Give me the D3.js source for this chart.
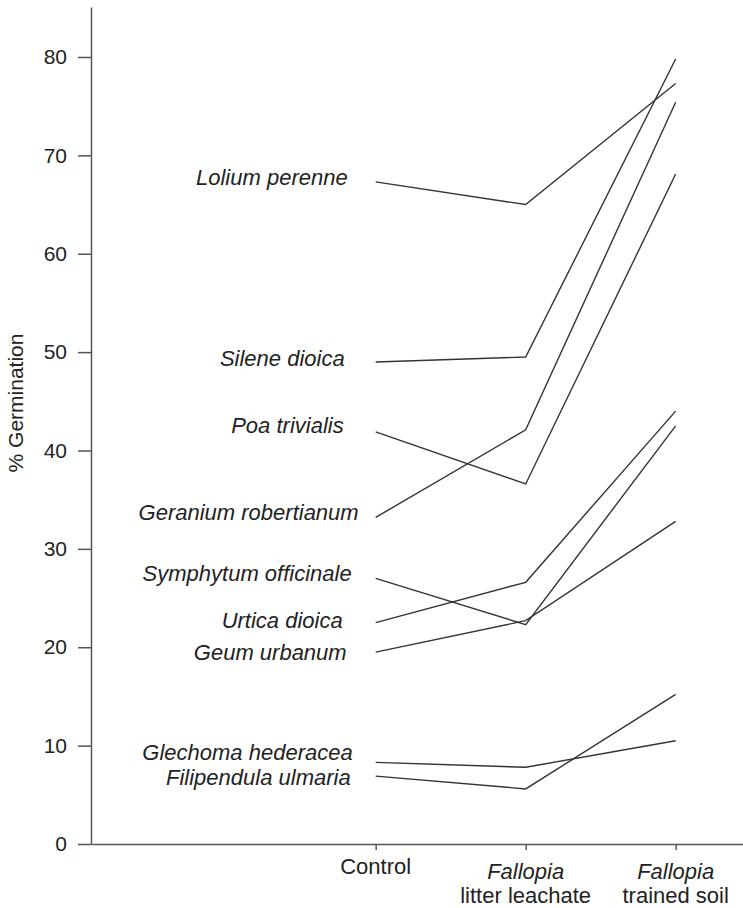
<!DOCTYPE html>
<html><head><meta charset="utf-8">
<script src="https://cdn.jsdelivr.net/npm/d3@7"></script>
<style>
body{margin:0;background:#fff;}
svg{display:block;font-family:"Liberation Sans",Arial,sans-serif;}
</style></head>
<body><svg id="c" width="743" height="908"></svg>
<script>
const treatments = ["Control", "Fallopia|litter leachate", "Fallopia|trained soil"];
const species = ["Lolium perenne","Silene dioica","Poa trivialis","Geranium robertianum","Symphytum officinale","Urtica dioica","Geum urbanum","Glechoma hederacea","Filipendula ulmaria"];
const controlVals  = [67.3, 49.0, 41.9, 33.2, 27.0, 22.5, 19.5, 8.3, 6.9];
const leachateVals = [65.0, 49.5, 36.6, 42.1, 22.3, 26.6, 22.7, 7.8, 5.6];
const soilVals     = [77.3, 79.8, 68.1, 75.4, 42.5, 44.0, 32.8, 10.5, 15.2];
const yTicks = [0,10,20,30,40,50,60,70,80];
// label nudges (px) relative to line start [dx, dy]
const labelNudge = [[-28,-4],[-31,-3],[-32,-6],[-17,-5],[-24,-5],[-33,-2],[-29,0],[-23,-10],[-25,1]];

const svg = d3.select("#c");
const x = d3.scaleLinear().domain([-1.898, 2.449]).range([91, 743]);
const y = d3.scaleLinear().domain([0, 85.08]).range([844, 7]);

const axisColor = "#555";
const textColor = "#222";

// Y axis
const gy = svg.append("g").attr("transform","translate(91,0)")
  .call(d3.axisLeft(y).tickValues(yTicks).tickSize(13).tickSizeOuter(0).tickPadding(11));
gy.select(".domain").attr("stroke",axisColor).attr("stroke-width",1.5);
gy.selectAll(".tick line").attr("stroke",axisColor).attr("stroke-width",1.5);
gy.selectAll(".tick text").attr("fill",textColor).style("font-size","21px").style("font-family","Liberation Sans, Arial, sans-serif");

// X axis
const gx = svg.append("g").attr("transform","translate(0,844)")
  .call(d3.axisBottom(x).tickValues([0,1,2]).tickSize(6).tickSizeOuter(0).tickFormat(""));
gx.select(".domain").attr("stroke",axisColor).attr("stroke-width",1.5);
gx.selectAll(".tick line").attr("stroke",axisColor).attr("stroke-width",1.5);

treatments.forEach((t,i)=>{
  const parts = t.split("|");
  const txt = svg.append("text").attr("text-anchor","middle").attr("fill",textColor)
    .style("font-size","22px");
  if(parts.length===1){
    txt.attr("x",x(i)).attr("y",874).text(parts[0]);
  } else {
    txt.append("tspan").attr("x",x(i)).attr("y",879).style("font-style","italic").text(parts[0]);
    txt.append("tspan").attr("x",x(i)).attr("y",903).text(parts[1]);
  }
});

// Y label
svg.append("text").attr("transform","translate(23,403) rotate(-90)")
  .attr("text-anchor","middle").attr("fill",textColor).style("font-size","21px")
  .text("% Germination");

// Lines
const line = d3.line().x((d,i)=>x(i)).y(d=>y(d));
species.forEach((s,k)=>{
  const vals=[controlVals[k],leachateVals[k],soilVals[k]];
  svg.append("path").attr("d",line(vals)).attr("fill","none")
    .attr("stroke","#333").attr("stroke-width",1.4).attr("stroke-linejoin","miter");
  svg.append("text").attr("x",x(0)+labelNudge[k][0]).attr("y",y(vals[0])+labelNudge[k][1])
    .attr("text-anchor","end").attr("dominant-baseline","central")
    .attr("fill",textColor).style("font-size","22px").style("font-style","italic").text(s);
});
</script></body></html>
